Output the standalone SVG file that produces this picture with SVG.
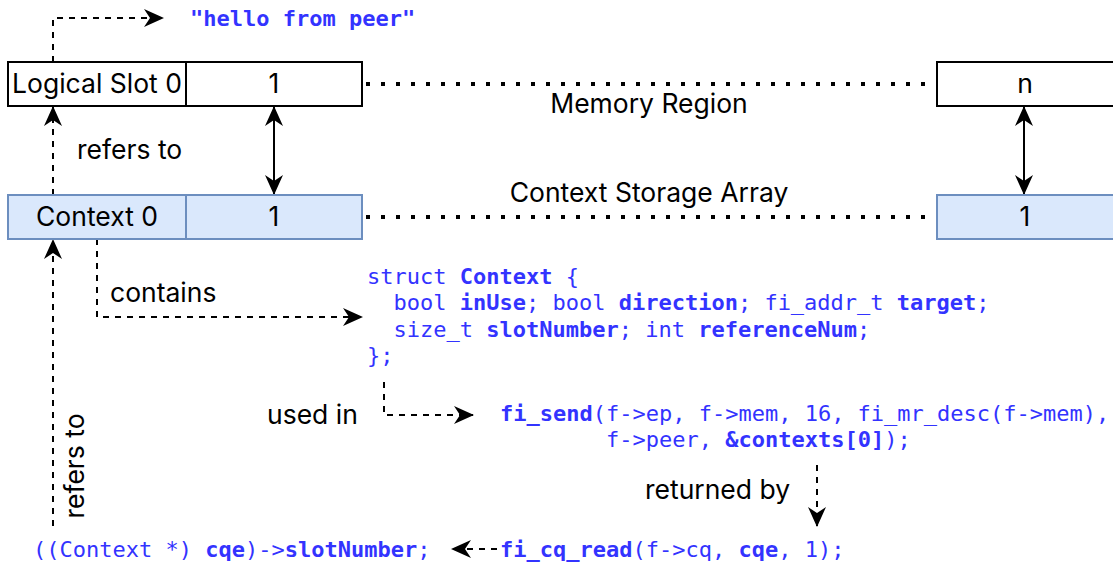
<svg xmlns="http://www.w3.org/2000/svg" width="1113" height="566" viewBox="0 0 1113 566">
<style>
.lbl{font-family:Inter,"Noto Sans",sans-serif;font-size:26.5px;fill:#000}
.code{font-family:"DejaVu Sans Mono","Liberation Mono",monospace;font-size:22px;fill:#3333ff}
.b{font-weight:bold}
.mem{fill:#fff;stroke:#000;stroke-width:2}
.ctx{fill:#dae8fc;stroke:#6c8ebf;stroke-width:2}
.dash{fill:none;stroke:#000;stroke-width:2;stroke-dasharray:6 6}
.solid{fill:none;stroke:#000;stroke-width:2}
.dot{fill:none;stroke:#000;stroke-width:4;stroke-dasharray:4 11}
</style>
<defs>
<marker id="ah" viewBox="0 0 20 18" refX="19" refY="9" markerWidth="20" markerHeight="18" markerUnits="userSpaceOnUse" orient="auto-start-reverse">
<path d="M0,0 L20,9 L0,18 L6,9 Z" fill="#000"/>
</marker>
</defs>
<g id="connectors">
<path class="dash" d="M53,62 V18 H163" marker-end="url(#ah)"/>
<path class="dash" d="M53,195 V107" marker-end="url(#ah)"/>
<path class="solid" d="M274,107 V194" marker-start="url(#ah)" marker-end="url(#ah)"/>
<path class="solid" d="M1024,107 V194" marker-start="url(#ah)" marker-end="url(#ah)"/>
<path class="dot" d="M366,84 H937"/>
<path class="dot" d="M366,217 H937"/>
<path class="dash" d="M97,239 V317 H362" marker-end="url(#ah)"/>
<path class="dash" d="M53,526 V240" marker-end="url(#ah)"/>
<path class="dash" d="M384,382 V415 H473" marker-end="url(#ah)"/>
<path class="dash" d="M817,465 V526" marker-end="url(#ah)"/>
<path class="dash" d="M497,549 H452" marker-end="url(#ah)"/>
</g>
<g id="slot0"><rect class="mem" x="8" y="62" width="178" height="44"/><text class="lbl" x="97" y="93" text-anchor="middle">Logical Slot 0</text></g>
<g id="slot1"><rect class="mem" x="186" y="62" width="176" height="44"/><text class="lbl" x="274" y="93" text-anchor="middle">1</text></g>
<g id="slotn"><rect class="mem" x="937" y="62" width="178" height="44"/><text class="lbl" x="1025" y="93" text-anchor="middle">n</text></g>
<g id="ctx0"><rect class="ctx" x="8" y="195" width="178" height="44"/><text class="lbl" x="97" y="226" text-anchor="middle">Context 0</text></g>
<g id="ctx1"><rect class="ctx" x="186" y="195" width="176" height="44"/><text class="lbl" x="274" y="226" text-anchor="middle">1</text></g>
<g id="ctxn"><rect class="ctx" x="937" y="195" width="178" height="44"/><text class="lbl" x="1025" y="226" text-anchor="middle">1</text></g>
<g id="labels">
<text class="lbl" x="649" y="113" text-anchor="middle">Memory Region</text>
<text class="lbl" x="649" y="202" text-anchor="middle">Context Storage Array</text>
<text class="lbl" x="77" y="159">refers to</text>
<text class="lbl" x="110" y="302">contains</text>
<text class="lbl" x="267" y="424">used in</text>
<text class="lbl" x="645" y="499">returned by</text>
<text class="lbl" transform="translate(84,466) rotate(-90)" text-anchor="middle">refers to</text>
</g>
<g id="hello"><text class="code b" x="190" y="26">"hello from peer"</text></g>
<g id="struct">
<text class="code" x="367" y="284">struct <tspan class="b">Context</tspan> {</text>
<text class="code" x="367" y="310" xml:space="preserve">  bool <tspan class="b">inUse</tspan>; bool <tspan class="b">direction</tspan>; fi_addr_t <tspan class="b">target</tspan>;</text>
<text class="code" x="367" y="337" xml:space="preserve">  size_t <tspan class="b">slotNumber</tspan>; int <tspan class="b">referenceNum</tspan>;</text>
<text class="code" x="367" y="363">};</text>
</g>
<g id="fisend">
<text class="code" x="500" y="421"><tspan class="b">fi_send</tspan>(f-&gt;ep, f-&gt;mem, 16, fi_mr_desc(f-&gt;mem),</text>
<text class="code" x="606" y="447">f-&gt;peer, <tspan class="b">&amp;contexts[0]</tspan>);</text>
</g>
<g id="cqread"><text class="code" x="500" y="557"><tspan class="b">fi_cq_read</tspan>(f-&gt;cq, <tspan class="b">cqe</tspan>, 1);</text></g>
<g id="slotnum"><text class="code" x="33" y="557">((Context *) <tspan class="b">cqe</tspan>)-&gt;<tspan class="b">slotNumber</tspan>;</text></g>
</svg>
